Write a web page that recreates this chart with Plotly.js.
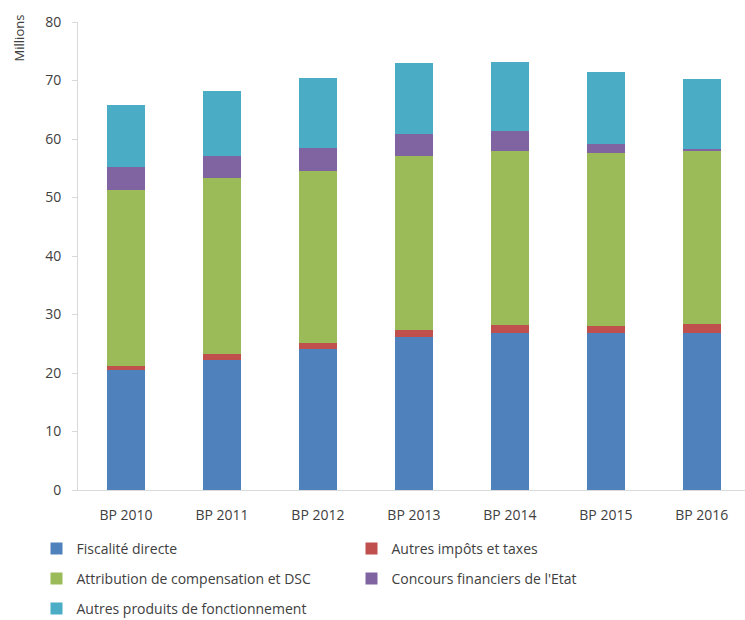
<!DOCTYPE html>
<html>
<head>
<meta charset="utf-8">
<script src="https://cdn.plot.ly/plotly-3.0.1.min.js"></script>
<style>html,body{margin:0;padding:0;background:#fff;}</style>
</head>
<body>
<div id="chart" style="width:745px;height:620px;"></div>
<script>
const categories = ["BP 2010","BP 2011","BP 2012","BP 2013","BP 2014","BP 2015","BP 2016"];
const fiscaliteDirecte = [20.5, 22.3, 24.1, 26.2, 26.9, 26.8, 26.9];
const autresImpots = [0.7, 0.9, 1.1, 1.2, 1.3, 1.2, 1.5];
const attributionCompensation = [30.1, 30.2, 29.4, 29.7, 29.7, 29.6, 29.5];
const concoursEtat = [3.9, 3.7, 3.8, 3.8, 3.5, 1.5, 0.4];
const autresProduits = [10.6, 11.1, 12.0, 12.1, 11.8, 12.3, 11.9];
const seriesNames = ["Fiscalité directe","Autres impôts et taxes","Attribution de compensation et DSC","Concours financiers de l'Etat","Autres produits de fonctionnement"];
const yTicks = [0,10,20,30,40,50,60,70,80];

const colors = ["#4F81BD","#C0504D","#9BBB59","#8064A2","#4BACC6"];
const seriesValues = [fiscaliteDirecte, autresImpots, attributionCompensation, concoursEtat, autresProduits];
const legendRows = ["legend","legend","legend2","legend2","legend3"];

const traces = seriesValues.map((vals, i) => ({
  type: "bar",
  name: seriesNames[i],
  x: categories,
  y: vals,
  marker: {color: colors[i], line: {width: 0}},
  width: 0.4,
  legend: legendRows[i],
  hoverinfo: "x+y+name"
}));

function legendAt(y) {
  return {
    orientation: "h",
    xref: "container", yref: "container",
    x: 0.049, xanchor: "left",
    y: y, yanchor: "middle",
    traceorder: "normal",
    entrywidth: 270, entrywidthmode: "pixels",
    font: {size: 14, color: "#404040"},
    itemwidth: 30,
    bgcolor: "rgba(0,0,0,0)"
  };
}

const layout = {
  width: 745, height: 620,
  margin: {l: 78, r: 0, t: 22, b: 130},
  barmode: "stack",
  paper_bgcolor: "#fff",
  plot_bgcolor: "#fff",
  font: {family: "Open Sans, Liberation Sans, sans-serif", size: 14, color: "#404040"},
  xaxis: {
    type: "category",
    range: [-0.5, 6.45],
    showline: true, linecolor: "#d9d9d9", linewidth: 1,
    ticks: "", showgrid: false, zeroline: false,
    ticklabelstandoff: 12,
    tickfont: {size: 14, color: "#404040"}
  },
  yaxis: {
    range: [0, 80],
    tickvals: yTicks,
    showline: true, linecolor: "#d9d9d9", linewidth: 1,
    ticks: "outside", ticklen: 5, tickcolor: "#d9d9d9",
    ticklabelstandoff: 8,
    showgrid: false, zeroline: false,
    tickfont: {size: 14, color: "#404040"}
  },
  showlegend: true,
  legend: legendAt(1 - 549/620),
  legend2: legendAt(1 - 579/620),
  legend3: legendAt(1 - 609/620),
  annotations: [{
    text: "Millions", textangle: -90,
    xref: "paper", yref: "paper",
    x: -0.088, y: 1.02, xanchor: "center", yanchor: "top",
    showarrow: false, font: {size: 13, color: "#404040"}
  }]
};

Plotly.newPlot("chart", traces, layout, {displayModeBar: false, staticPlot: true});
</script>
</body>
</html>
